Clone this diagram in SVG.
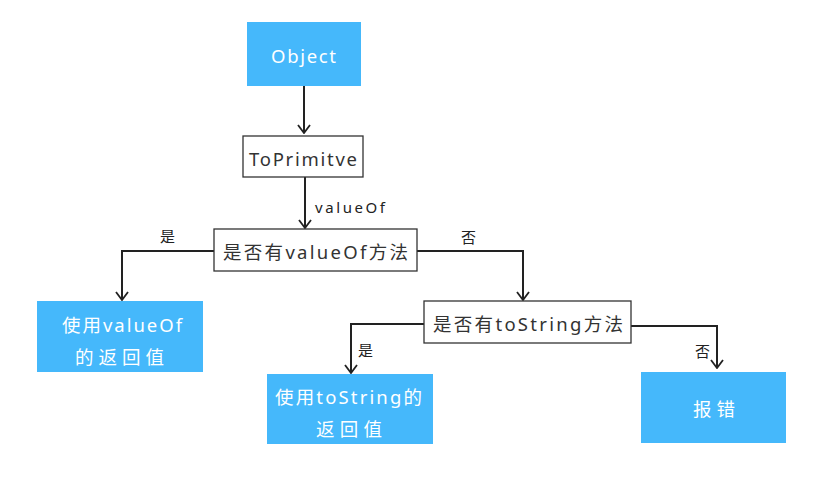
<svg xmlns="http://www.w3.org/2000/svg" width="820" height="489" viewBox="0 0 820 489">
<defs>
<marker id="ah" viewBox="0 0 10 14" refX="9" refY="7" markerWidth="10" markerHeight="14" markerUnits="userSpaceOnUse" orient="auto">
<path d="M1,1 L9,7 L1,13" fill="none" stroke="#222" stroke-width="1.8"/>
</marker>
<style>
.blue{fill:#45b8fb;stroke:none}
.white{fill:#fff;stroke:#333;stroke-width:1.3}
.t{font-family:"Noto Sans","Noto Sans CJK SC",sans-serif;font-size:18.5px;fill:#333;text-anchor:start}
.tw{font-family:"Noto Sans","Noto Sans CJK SC",sans-serif;font-size:18.5px;fill:#fff;text-anchor:start}
.lab{font-family:"Noto Sans","Noto Sans CJK SC",sans-serif;font-size:15px;fill:#222}
.c{fill:none;stroke:#222;stroke-width:2;marker-end:url(#ah)}
</style>
</defs>
<rect width="820" height="489" fill="#fff"/>
<g id="connectors">
<path class="c" d="M304,86 L304,133"/>
<path class="c" d="M305,177 L305,228"/>
<path class="c" d="M214,251 L122,251 L122,300"/>
<path class="c" d="M417,251 L523,251 L523,300"/>
<path class="c" d="M424,324 L351,324 L351,373"/>
<path class="c" d="M631,326 L717,326 L717,368"/>
<text class="lab" x="315" y="213" font-size="16" textLength="70" lengthAdjust="spacing">valueOf</text>
<text class="lab" x="160" y="242">是</text>
<text class="lab" x="461" y="243">否</text>
<text class="lab" x="358" y="356">是</text>
<text class="lab" x="695" y="357">否</text>
</g>
<g id="object">
<rect class="blue" x="247" y="22" width="114" height="64"/>
<text class="tw" x="271" y="63" font-size="20" textLength="65" lengthAdjust="spacing">Object</text>
</g>
<g id="toprimitive">
<rect class="white" x="243" y="136" width="120" height="41"/>
<text class="t" x="249" y="166" textLength="108" lengthAdjust="spacing">ToPrimitve</text>
</g>
<g id="has-valueof">
<rect class="white" x="214" y="229" width="203" height="42"/>
<text class="t" x="223" y="259" textLength="185" lengthAdjust="spacing">是否有valueOf方法</text>
</g>
<g id="use-valueof">
<rect class="blue" x="37" y="301" width="166" height="71"/>
<text class="tw" x="62" y="332" textLength="120" lengthAdjust="spacing">使用valueOf</text>
<text class="tw" x="75" y="364" textLength="89" lengthAdjust="spacing">的返回值</text>
</g>
<g id="has-tostring">
<rect class="white" x="424" y="301" width="207" height="42"/>
<text class="t" x="433" y="331" textLength="190" lengthAdjust="spacing">是否有toString方法</text>
</g>
<g id="use-tostring">
<rect class="blue" x="267" y="374" width="166" height="70"/>
<text class="tw" x="275" y="404" textLength="147" lengthAdjust="spacing">使用toString的</text>
<text class="tw" x="316" y="436" textLength="66" lengthAdjust="spacing">返回值</text>
</g>
<g id="error">
<rect class="blue" x="641" y="372" width="145" height="71"/>
<text class="tw" x="693" y="416" textLength="42" lengthAdjust="spacing">报错</text>
</g>
</svg>
